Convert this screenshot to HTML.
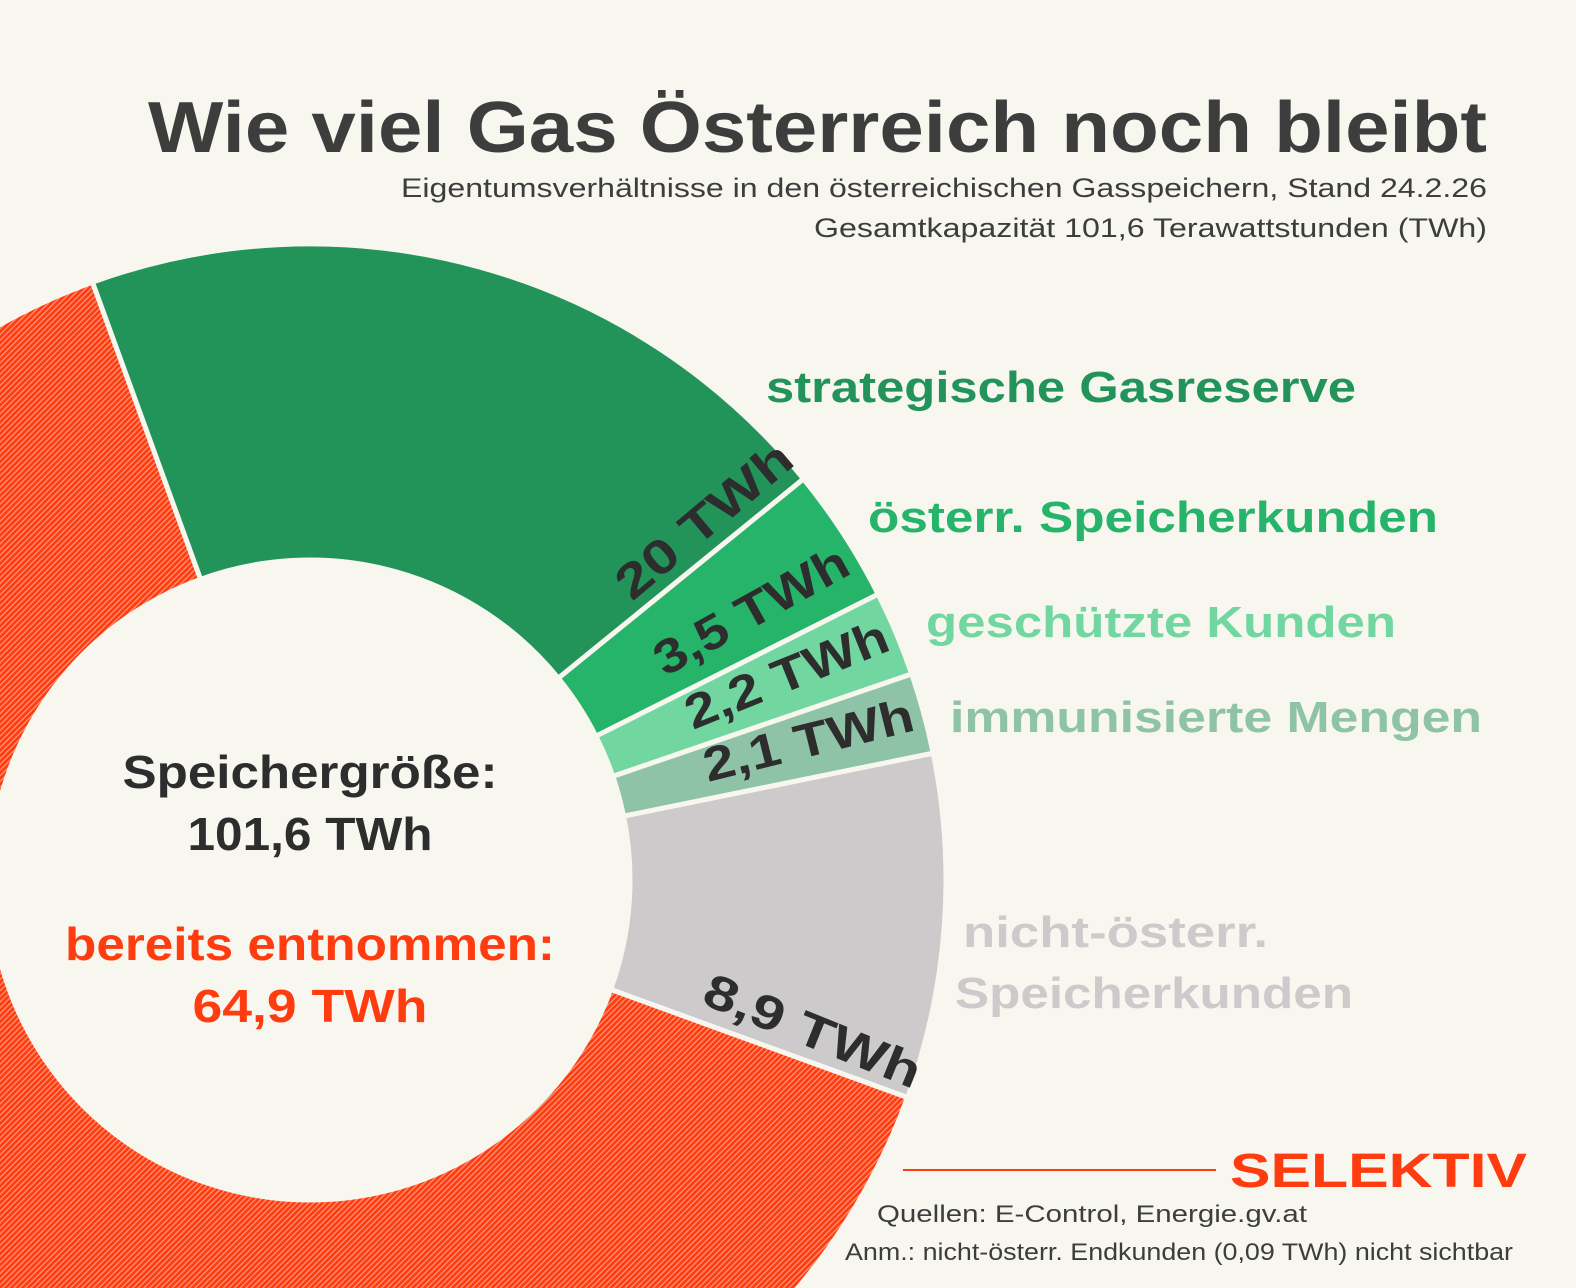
<!DOCTYPE html>
<html><head><meta charset="utf-8"><style>
html,body{margin:0;padding:0;background:#f8f7ef;width:1576px;height:1288px;overflow:hidden;}
svg{display:block;font-family:"Liberation Sans",sans-serif;}
</style></head><body>
<svg width="1576" height="1288" viewBox="0 0 1576 1288" xmlns="http://www.w3.org/2000/svg">
<defs>
<pattern id="hatch" width="4" height="4" patternUnits="userSpaceOnUse" patternTransform="rotate(45)">
<rect width="4" height="4" fill="#ff3c10"/>
<rect width="1.2" height="4" fill="#ff9a80"/>
</pattern>
</defs>
<rect width="1576" height="1288" fill="#f8f7ef"/>
<g stroke="#f8f7ef" stroke-width="5" stroke-linejoin="miter">
<path d="M907.6,1097.5 A636,636 0 1 1 92.5,282.2 L200.6,579.3 A320,320 0 1 0 610.7,989.4 Z" fill="url(#hatch)"/>
<path d="M92.5,282.2 A636,636 0 0 1 803.5,478.9 L558.3,678.2 A320,320 0 0 0 200.6,579.3 Z" fill="#22945a"/>
<path d="M803.5,478.9 A636,636 0 0 1 878.2,594.2 L595.9,736.2 A320,320 0 0 0 558.3,678.2 Z" fill="#25b46a"/>
<path d="M878.2,594.2 A636,636 0 0 1 911.7,674.0 L612.8,776.4 A320,320 0 0 0 595.9,736.2 Z" fill="#72d6a0"/>
<path d="M911.7,674.0 A636,636 0 0 1 933.2,753.2 L623.6,816.2 A320,320 0 0 0 612.8,776.4 Z" fill="#8fc3a8"/>
<path d="M933.2,753.2 A636,636 0 0 1 907.6,1097.5 L610.7,989.4 A320,320 0 0 0 623.6,816.2 Z" fill="#cccacb"/>
</g>
<g font-weight="bold" fill="#3d3d3d">
<text x="1487" y="152" font-size="72" text-anchor="end" textLength="1339" lengthAdjust="spacingAndGlyphs">Wie viel Gas Österreich noch bleibt</text>
</g>
<g fill="#3d3d3d" font-size="27" text-anchor="end">
<text x="1487" y="197" textLength="1086" lengthAdjust="spacingAndGlyphs">Eigentumsverhältnisse in den österreichischen Gasspeichern, Stand 24.2.26</text>
<text x="1487" y="237" textLength="673" lengthAdjust="spacingAndGlyphs">Gesamtkapazität 101,6 Terawattstunden (TWh)</text>
</g>
<g font-weight="bold" font-size="44">
<text x="766" y="402" fill="#22945a" textLength="590" lengthAdjust="spacingAndGlyphs">strategische Gasreserve</text>
<text x="868" y="532" fill="#25b46a" textLength="570" lengthAdjust="spacingAndGlyphs">österr. Speicherkunden</text>
<text x="926" y="637" fill="#72d6a0" textLength="470" lengthAdjust="spacingAndGlyphs">geschützte Kunden</text>
<text x="950" y="732" fill="#8fc3a8" textLength="532" lengthAdjust="spacingAndGlyphs">immunisierte Mengen</text>
<text x="963" y="947" fill="#cccacb" textLength="305" lengthAdjust="spacingAndGlyphs">nicht-österr.</text>
<text x="955" y="1008" fill="#cccacb" textLength="398" lengthAdjust="spacingAndGlyphs">Speicherkunden</text>
</g>
<g font-weight="bold" font-size="48" fill="#2d2d2d">
<text transform="translate(632,602) rotate(-40)" textLength="215" lengthAdjust="spacingAndGlyphs">20 TWh</text>
<text transform="translate(665,677) rotate(-29)" textLength="215" lengthAdjust="spacingAndGlyphs">3,5 TWh</text>
<text transform="translate(693,730) rotate(-22)" textLength="215" lengthAdjust="spacingAndGlyphs">2,2 TWh</text>
<text transform="translate(708,782) rotate(-14)" textLength="215" lengthAdjust="spacingAndGlyphs">2,1 TWh</text>
<text transform="translate(700,1003) rotate(22)" textLength="230" lengthAdjust="spacingAndGlyphs">8,9 TWh</text>
</g>
<g font-weight="bold" font-size="46" text-anchor="middle">
<text x="310" y="788" fill="#2d2d2d" textLength="375" lengthAdjust="spacingAndGlyphs">Speichergröße:</text>
<text x="310" y="850" fill="#2d2d2d" textLength="245" lengthAdjust="spacingAndGlyphs">101,6 TWh</text>
<text x="310" y="960" fill="#ff3c10" textLength="490" lengthAdjust="spacingAndGlyphs">bereits entnommen:</text>
<text x="310" y="1022" fill="#ff3c10" textLength="235" lengthAdjust="spacingAndGlyphs">64,9 TWh</text>
</g>
<line x1="903" y1="1170" x2="1216" y2="1170" stroke="#ff3c10" stroke-width="2"/>
<text x="1230" y="1187" font-size="48" font-weight="bold" fill="#ff3c10" textLength="297" lengthAdjust="spacingAndGlyphs">SELEKTIV</text>
<g fill="#3d3d3d" font-size="24" text-anchor="end">
<text x="1307" y="1222" textLength="430" lengthAdjust="spacingAndGlyphs">Quellen: E-Control, Energie.gv.at</text>
<text x="1513" y="1260" textLength="668" lengthAdjust="spacingAndGlyphs">Anm.: nicht-österr. Endkunden (0,09 TWh) nicht sichtbar</text>
</g>
</svg>
</body></html>
